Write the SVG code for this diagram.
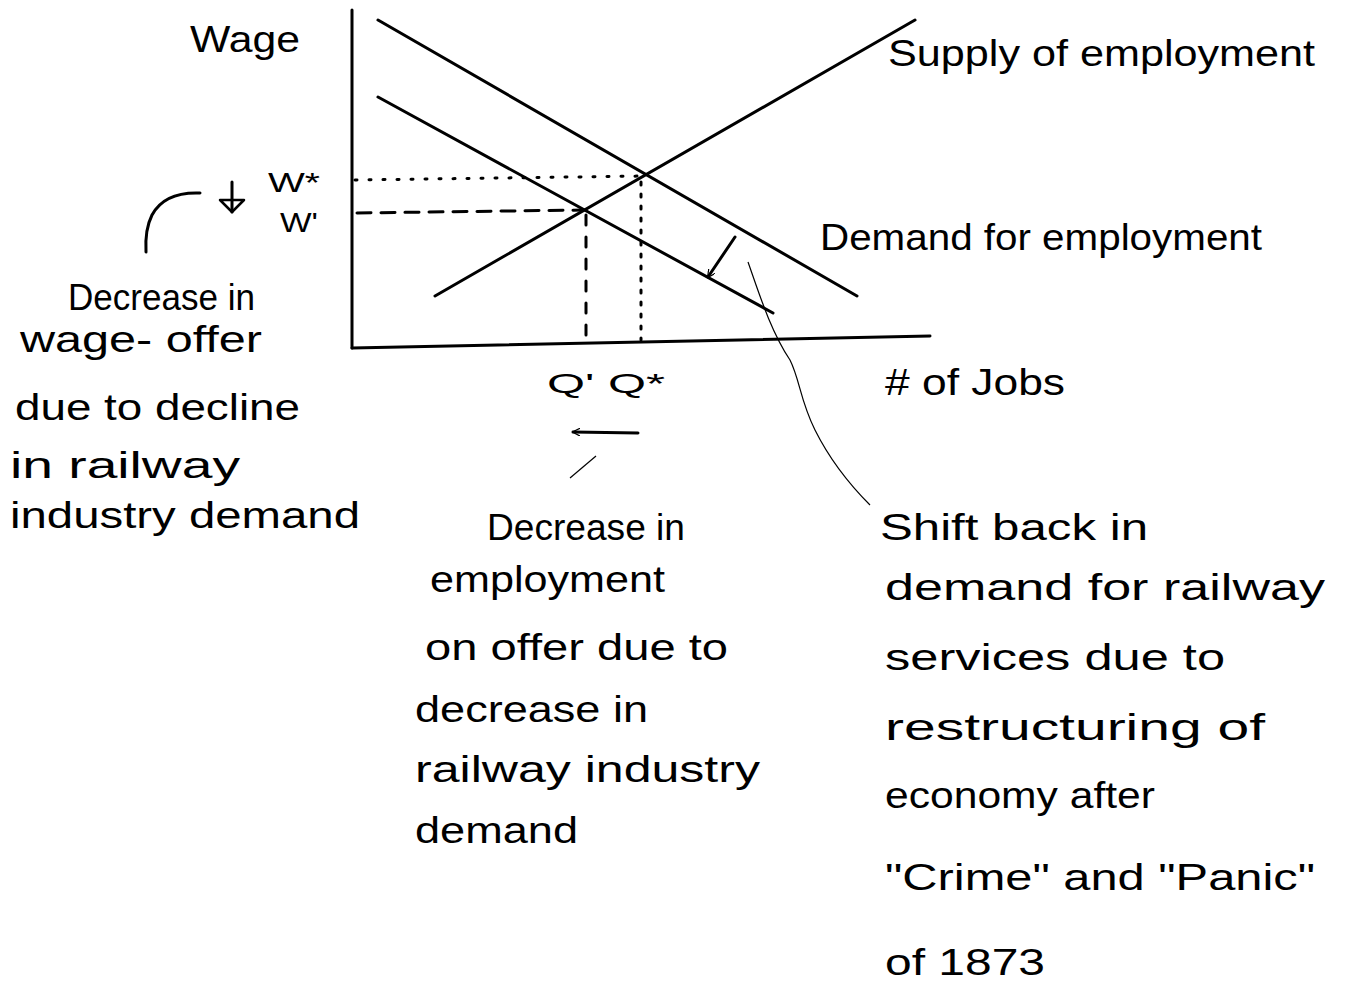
<svg xmlns="http://www.w3.org/2000/svg" width="1346" height="989" viewBox="0 0 1346 989">
<style>
.t{font-family:"Liberation Sans",Arial,sans-serif;font-size:36px;fill:#000}
.s{font-family:"Liberation Sans",Arial,sans-serif;font-size:28px;fill:#000}
.ln{stroke:#000;stroke-width:3;fill:none;stroke-linecap:round}
.thin{stroke:#000;stroke-width:1.2;fill:none}
</style>
<defs>
<marker id="ah" viewBox="0 0 10 10" refX="9" refY="5" markerWidth="8" markerHeight="8" orient="auto-start-reverse" markerUnits="userSpaceOnUse">
<path d="M0,0 L10,5 L0,10" fill="none" stroke="#000" stroke-width="1.5"/>
</marker>
</defs>
<rect width="1346" height="989" fill="#fff"/>
<g id="axes">
<line class="ln" x1="352" y1="10" x2="352" y2="348"/>
<line class="ln" x1="352" y1="348" x2="930" y2="336"/>
</g>
<g id="connectors">
<line class="ln" x1="378" y1="20" x2="857" y2="296"/>
<line class="ln" x1="378" y1="97" x2="773" y2="313"/>
<line class="ln" x1="435" y1="296" x2="915" y2="20" stroke-width="3.5"/>
<line class="ln" x1="355" y1="180" x2="645" y2="176" stroke-width="1.5" stroke-dasharray="2 12"/>
<line class="ln" x1="357" y1="213" x2="583" y2="210" stroke-width="2" stroke-dasharray="14 10"/>
<line class="ln" x1="586" y1="215" x2="586" y2="345" stroke-width="2.5" stroke-dasharray="10 12"/>
<line class="ln" x1="641" y1="182" x2="641" y2="340" stroke-width="1.5" stroke-dasharray="3 9"/>
<line class="ln" x1="735" y1="237" x2="708" y2="277" stroke-width="2.5" marker-end="url(#ah)"/>
<line class="ln" x1="638" y1="433" x2="573" y2="432" stroke-width="2.5" marker-end="url(#ah)"/>
<path class="ln" d="M232,182 L232,212" stroke-width="2.5"/>
<path d="M220,200 L232,212 L244,200 Z" fill="none" stroke="#000" stroke-width="2.5" stroke-linejoin="round"/>
<path class="ln" d="M200,193 C175,192 160,200 152,215 C147,225 145,235 146,252" stroke-width="2"/>
<path class="thin" d="M596,456 L570,478"/>
<path class="thin" d="M748,262 C758,290 770,330 790,360 C800,380 800,400 815,430 C830,460 850,485 870,505"/>
</g>
<g id="label-wage"><text class="t" x="190" y="52" textLength="110" lengthAdjust="spacingAndGlyphs">Wage</text></g>
<g id="label-supply"><text class="t" x="888" y="66" textLength="427" lengthAdjust="spacingAndGlyphs">Supply of employment</text></g>
<g id="label-demand"><text class="t" x="820" y="250" textLength="442" lengthAdjust="spacingAndGlyphs">Demand for employment</text></g>
<g id="label-jobs"><text class="t" x="885" y="395" textLength="180" lengthAdjust="spacingAndGlyphs"># of Jobs</text></g>
<g id="label-wstar"><text class="s" x="268" y="192" textLength="52" lengthAdjust="spacingAndGlyphs">W*</text></g>
<g id="label-wprime"><text class="s" x="280" y="232" textLength="38" lengthAdjust="spacingAndGlyphs">W'</text></g>
<g id="label-q"><text class="s" x="547" y="393" textLength="118" lengthAdjust="spacingAndGlyphs">Q' Q*</text></g>
<g id="note-wage">
<text class="t" x="68" y="310" textLength="187" lengthAdjust="spacingAndGlyphs">Decrease in</text>
<text class="t" x="20" y="352" textLength="242" lengthAdjust="spacingAndGlyphs">wage- offer</text>
<text class="t" x="15" y="420" textLength="285" lengthAdjust="spacingAndGlyphs">due to decline</text>
<text class="t" x="10" y="478" textLength="230" lengthAdjust="spacingAndGlyphs">in railway</text>
<text class="t" x="10" y="528" textLength="350" lengthAdjust="spacingAndGlyphs">industry demand</text>
</g>
<g id="note-employment">
<text class="t" x="487" y="540" textLength="198" lengthAdjust="spacingAndGlyphs">Decrease in</text>
<text class="t" x="430" y="592" textLength="235" lengthAdjust="spacingAndGlyphs">employment</text>
<text class="t" x="425" y="660" textLength="303" lengthAdjust="spacingAndGlyphs">on offer due to</text>
<text class="t" x="415" y="722" textLength="233" lengthAdjust="spacingAndGlyphs">decrease in</text>
<text class="t" x="415" y="782" textLength="345" lengthAdjust="spacingAndGlyphs">railway industry</text>
<text class="t" x="415" y="843" textLength="163" lengthAdjust="spacingAndGlyphs">demand</text>
</g>
<g id="note-shift">
<text class="t" x="880" y="540" textLength="268" lengthAdjust="spacingAndGlyphs">Shift back in</text>
<text class="t" x="885" y="600" textLength="440" lengthAdjust="spacingAndGlyphs">demand for railway</text>
<text class="t" x="885" y="670" textLength="340" lengthAdjust="spacingAndGlyphs">services due to</text>
<text class="t" x="885" y="740" textLength="380" lengthAdjust="spacingAndGlyphs">restructuring of</text>
<text class="t" x="885" y="808" textLength="270" lengthAdjust="spacingAndGlyphs">economy after</text>
<text class="t" x="885" y="890" textLength="430" lengthAdjust="spacingAndGlyphs">"Crime" and "Panic"</text>
<text class="t" x="885" y="975" textLength="160" lengthAdjust="spacingAndGlyphs">of 1873</text>
</g>
</svg>
